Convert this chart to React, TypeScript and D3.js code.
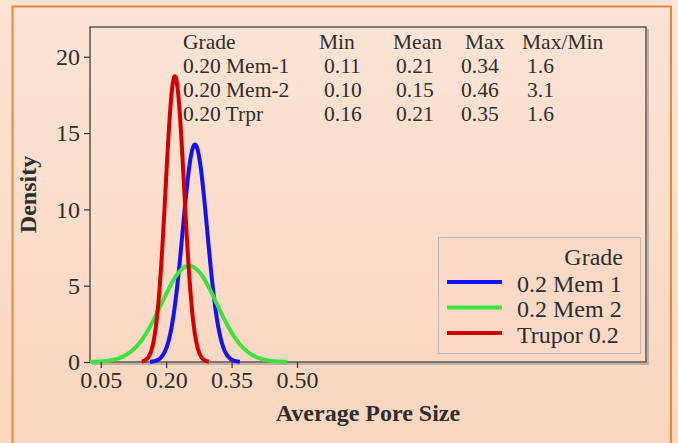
import React, { useEffect, useRef } from "react";
import * as d3 from "d3";

// series: normal density curves per grade
const grades = ["0.2 Mem 1", "0.2 Mem 2", "Trupor 0.2"];
const colors = ["#1212f2", "#3ee23e", "#d30000"];
const means = [0.266, 0.2527, 0.22];
const sds = [0.028, 0.0633, 0.0213];
const xStart = [0.163, 0.025, 0.144];
const xEnd = [0.369, 0.478, 0.298];

const xTicks = [0.05, 0.2, 0.35, 0.5];
const yTicks = [0, 5, 10, 15, 20];

const tableHeader = ["Grade", "Min", "Mean", "Max", "Max/Min"];
const tableRows = [
  ["0.20 Mem-1", "0.11", "0.21", "0.34", "1.6"],
  ["0.20 Mem-2", "0.10", "0.15", "0.46", "3.1"],
  ["0.20 Trpr", "0.16", "0.21", "0.35", "1.6"],
];

const W = 678;
const H = 443;
const plot = { left: 90, top: 27, right: 646, bottom: 362 };
const font = "'Liberation Serif', 'Times New Roman', serif";
const textColor = "#2e2e2e";

const App = () => {
  const ref = useRef<SVGSVGElement>(null);

  useEffect(() => {
    const svg = d3.select(ref.current);
    svg.selectAll("*").remove();

    const x = d3.scaleLinear().domain([0.0254, 1.3]).range([plot.left, plot.right]);
    const y = d3.scaleLinear().domain([0, 21.95]).range([plot.bottom, plot.top]);

    // background
    const defs = svg.append("defs");
    const grad = defs
      .append("linearGradient")
      .attr("id", "bg")
      .attr("x1", 0)
      .attr("y1", 0)
      .attr("x2", 0)
      .attr("y2", 1);
    grad.append("stop").attr("offset", "0%").attr("stop-color", "#fce4d6");
    grad.append("stop").attr("offset", "100%").attr("stop-color", "#f9d6bf");

    svg.append("rect").attr("width", W).attr("height", H).attr("fill", "url(#bg)");
    svg
      .append("rect")
      .attr("x", 12.5)
      .attr("y", 6.5)
      .attr("width", 658.5)
      .attr("height", H + 20)
      .attr("fill", "none")
      .attr("stroke", "#f08536")
      .attr("stroke-width", 2);

    // frame with a faint shadow
    svg
      .append("path")
      .attr(
        "d",
        `M${plot.right + 2},${plot.top + 2}V${plot.bottom + 2}H${plot.left + 2}`
      )
      .attr("fill", "none")
      .attr("stroke", "#a9a39f")
      .attr("stroke-width", 1.5);
    svg
      .append("rect")
      .attr("x", plot.left)
      .attr("y", plot.top)
      .attr("width", plot.right - plot.left)
      .attr("height", plot.bottom - plot.top)
      .attr("fill", "none")
      .attr("stroke", "#333")
      .attr("stroke-width", 1.2);

    // curves
    const line = d3
      .line<[number, number]>()
      .x((d) => x(d[0]))
      .y((d) => y(d[1]))
      .curve(d3.curveBasis);

    grades.forEach((g, i) => {
      const n = 200;
      const step = (xEnd[i] - xStart[i]) / n;
      const pts: [number, number][] = d3.range(n + 1).map((k) => {
        const v = xStart[i] + k * step;
        const z = (v - means[i]) / sds[i];
        return [v, Math.exp(-0.5 * z * z) / (sds[i] * Math.sqrt(2 * Math.PI))];
      });
      svg
        .append("path")
        .attr("d", line(pts))
        .attr("fill", "none")
        .attr("stroke", colors[i])
        .attr("stroke-width", 4);
    });

    // axes
    const styleAxis = (g) => {
      g.select(".domain").remove();
      g.selectAll(".tick line").attr("stroke", "#333").attr("stroke-width", 1.2);
      g.selectAll(".tick text")
        .attr("fill", textColor)
        .style("font-family", font)
        .style("font-size", "24px");
    };

    svg
      .append("g")
      .attr("transform", `translate(0,${plot.bottom})`)
      .call(
        d3
          .axisBottom(x)
          .tickValues(xTicks)
          .tickFormat(d3.format(".2f"))
          .tickSize(6)
          .tickPadding(3)
      )
      .call(styleAxis);

    svg
      .append("g")
      .attr("transform", `translate(${plot.left},0)`)
      .call(d3.axisLeft(y).tickValues(yTicks).tickSize(6).tickPadding(4))
      .call(styleAxis);

    // axis titles
    svg
      .append("text")
      .attr("x", (plot.left + plot.right) / 2)
      .attr("y", 421)
      .attr("text-anchor", "middle")
      .attr("fill", textColor)
      .style("font-family", font)
      .style("font-size", "24px")
      .style("font-weight", "bold")
      .text("Average Pore Size");

    svg
      .append("text")
      .attr("transform", `translate(36,${(plot.top + plot.bottom) / 2}) rotate(-90)`)
      .attr("text-anchor", "middle")
      .attr("fill", textColor)
      .style("font-family", font)
      .style("font-size", "24px")
      .style("font-weight", "bold")
      .text("Density");

    // summary table
    const colX = [183, 319, 393, 465, 522];
    const valX = [183, 324, 396, 461, 527];
    const table = svg
      .append("g")
      .attr("fill", textColor)
      .style("font-family", font)
      .style("font-size", "21.5px");
    tableHeader.forEach((h, j) => {
      table.append("text").attr("x", colX[j]).attr("y", 48.5).text(h);
    });
    tableRows.forEach((row, r) => {
      row.forEach((v, j) => {
        table
          .append("text")
          .attr("x", valX[j])
          .attr("y", 72.5 + r * 24)
          .text(v);
      });
    });

    // legend
    const lg = svg.append("g");
    lg.append("rect")
      .attr("x", 438.5)
      .attr("y", 237.5)
      .attr("width", 202)
      .attr("height", 116)
      .attr("fill", "#fadac6")
      .attr("stroke", "#bdb6b2")
      .attr("stroke-width", 1);
    lg.append("text")
      .attr("x", 623)
      .attr("y", 265)
      .attr("text-anchor", "end")
      .attr("fill", textColor)
      .style("font-family", font)
      .style("font-size", "24px")
      .text("Grade");
    grades.forEach((g, i) => {
      const ly = 282 + i * 25.5;
      lg.append("line")
        .attr("x1", 447)
        .attr("x2", 502)
        .attr("y1", ly)
        .attr("y2", ly)
        .attr("stroke", colors[i])
        .attr("stroke-width", 4);
      lg.append("text")
        .attr("x", 517)
        .attr("y", ly + 9.5)
        .attr("fill", textColor)
        .style("font-family", font)
        .style("font-size", "24px")
        .text(g);
    });
  }, []);

  return (
    <svg
      ref={ref}
      width={W}
      height={H}
      style={{ position: "absolute", left: 0, top: 0 }}
    ></svg>
  );
};

export default App;
